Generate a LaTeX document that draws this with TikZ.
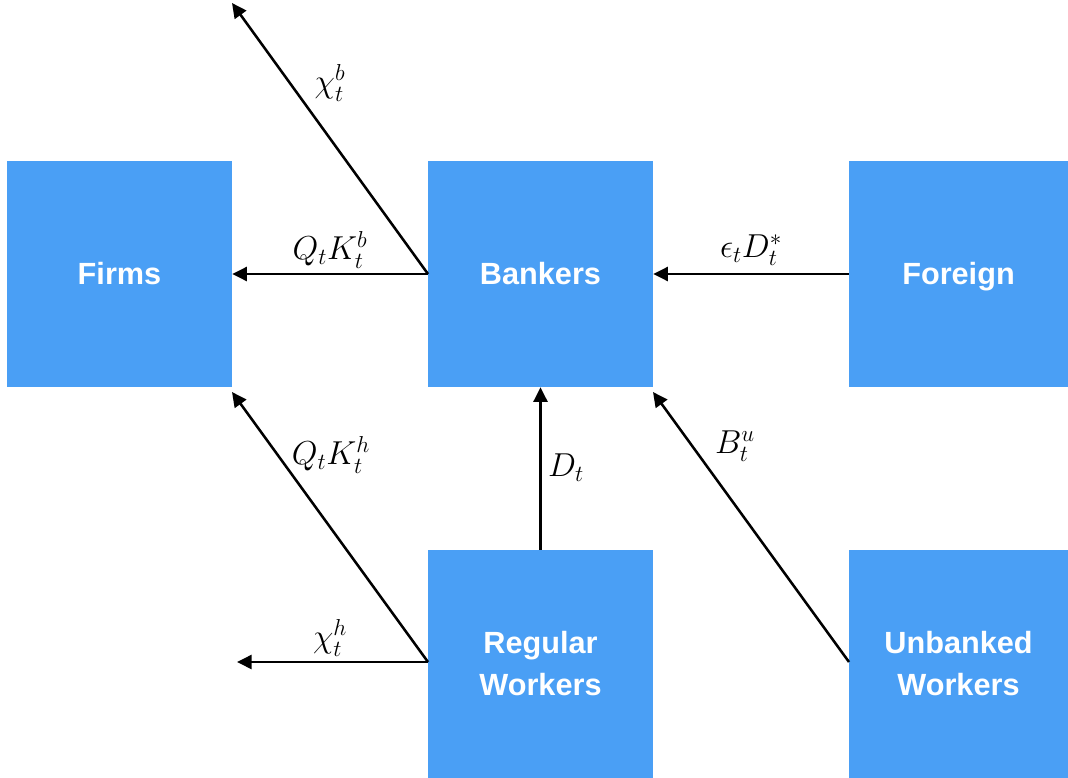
\documentclass[tikz,border=0pt]{standalone}
\usepackage{fontspec}
\newfontfamily\boxfont{Liberation Sans}
\usetikzlibrary{arrows.meta}
\definecolor{boxblue}{HTML}{4A9FF5}
\tikzset{
  agent/.style={fill=boxblue, draw=none, inner sep=0pt, text=white, align=center,
    font=\boxfont\bfseries\fontsize{23}{31.5}\selectfont},
  flow/.style={line width=1.9pt, -{Triangle[length=11pt,width=10.5pt]}},
  lab/.style={font=\fontsize{24.5}{29}\selectfont, inner sep=0pt}
}
\begin{document}
\begin{tikzpicture}[x=0.75pt,y=-0.75pt]
\useasboundingbox (0,0) rectangle (1068,778);
\node[agent, minimum width=168.75pt, minimum height=169.5pt] (firms) at (119.5,274) {Firms};
\node[agent, minimum width=168.75pt, minimum height=169.5pt] (bankers) at (540.5,274) {Bankers};
\node[agent, minimum width=164.25pt, minimum height=169.5pt] (foreign) at (958.5,274) {\vphantom{F}\smash{Foreign}};
\node[agent, minimum width=168.75pt, minimum height=171pt] (regular) at (540.5,664) {Regular\\Workers};
\node[agent, minimum width=164.25pt, minimum height=171pt] (unbanked) at (958.5,664) {Unbanked\\Workers};
\coordinate (chibend) at (232,3);
\coordinate (qkhend) at (232,392);
\coordinate (chihend) at (237,662);
\coordinate (buend) at (653,392);
\coordinate (bankersW) at (428,274);
\coordinate (regularW) at (428,662);
\coordinate (unbankedW) at (849,662);
\draw[flow] (bankersW) -- (firms.east);
\draw[flow] (bankersW) -- (chibend);
\draw[flow] (foreign.west) -- (bankers.east);
\draw[flow] (regular.north) -- (bankers.south);
\draw[flow] (regularW) -- (qkhend);
\draw[flow] (regularW) -- (chihend);
\draw[flow] (unbankedW) -- (buend);
\node[lab] (l1) at (330,83) {$\chi_t^b$};
\node[lab] (l2) at (330,250) {$Q_tK_t^b$};
\node[lab] (l3) at (751,250) {$\epsilon_tD_t^*$};
\node[lab] (l4) at (331,455) {$Q_tK_t^h$};
\node[lab] (l5) at (566,468) {$D_t$};
\node[lab] (l6) at (735,446) {$B_t^u$};
\node[lab] (l7) at (330,638) {$\chi_t^h$};
\end{tikzpicture}
\end{document}
